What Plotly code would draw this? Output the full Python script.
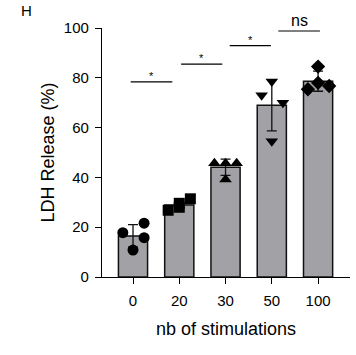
import numpy as np
import plotly.graph_objects as go

categories = ["0", "20", "30", "50", "100"]
values_0 = [17.8, 21.6, 15.8, 10.8]
values_20 = [26.8, 28.0, 29.6, 31.4]
values_30 = [45.7, 45.7, 45.7, 39.2]
values_50 = [73.0, 78.5, 70.0, 54.5]
values_100 = [84.5, 78.0, 75.4, 76.7]
groups = [values_0, values_20, values_30, values_50, values_100]
symbols = ["circle", "square", "triangle-up", "triangle-down", "diamond"]
jitter = [[-0.22, 0.24, 0.24, 0.0],
          [-0.24, 0.0, 0.0, 0.24],
          [-0.24, 0.0, 0.24, 0.0],
          [-0.22, 0.0, 0.24, 0.0],
          [0.0, 0.0, -0.22, 0.24]]
sig_labels = ["*", "*", "*", "ns"]
sig_spans = [(-0.05, 0.85), (1.04, 1.93), (2.09, 2.98), (3.14, 4.04)]
sig_levels = [78.4, 85.5, 92.9, 98.8]

means = [float(np.mean(g)) for g in groups]
sds = [float(np.std(g, ddof=1)) for g in groups]
xi = list(range(len(categories)))

fig = go.Figure()
fig.add_trace(go.Bar(
    x=xi, y=means, width=0.63,
    marker=dict(color="#a2a2a6", line=dict(color="#111111", width=1.5)),
    error_y=dict(type="data", array=sds, visible=True, color="#111111",
                 thickness=1.3, width=5),
    showlegend=False))
for i, g in enumerate(groups):
    fig.add_trace(go.Scatter(
        x=[i + j for j in jitter[i]], y=g, mode="markers",
        marker=dict(symbol=symbols[i], size=11, color="black"),
        showlegend=False, cliponaxis=False))

for (x0, x1), lvl, lab in zip(sig_spans, sig_levels, sig_labels):
    fig.add_shape(type="line", x0=x0, x1=x1, y0=lvl, y1=lvl,
                  line=dict(color="black", width=1.2), layer="above")
    fig.add_annotation(x=(x0 + x1) / 2, y=lvl, text=lab, showarrow=False,
                       yanchor="bottom", yshift=-2 if lab == "*" else 0,
                       font=dict(family="Liberation Sans", size=11 if lab == "*" else 16,
                                 color="black"))

fig.add_annotation(xref="paper", yref="paper", x=-0.305, y=1.03, text="H",
                   showarrow=False, xanchor="center", yanchor="bottom",
                   font=dict(family="Liberation Sans", size=15, color="black"))

fig.update_layout(
    width=356, height=355,
    margin=dict(l=102, r=6, t=28, b=78),
    plot_bgcolor="white", paper_bgcolor="white",
    font=dict(family="Liberation Sans", size=15, color="black"),
    bargap=0.3,
)
fig.update_xaxes(
    tickmode="array", tickvals=xi, ticktext=categories,
    range=[-0.67, 4.69], showline=True, linecolor="black", linewidth=1.2,
    ticks="outside", ticklen=6, tickcolor="black", showgrid=False, zeroline=False,
    ticklabelstandoff=4,
    title=dict(text="nb of stimulations", standoff=14),
)
fig.update_yaxes(
    range=[0, 100], tickvals=[0, 20, 40, 60, 80, 100],
    showline=True, linecolor="black", linewidth=1.2,
    ticks="outside", ticklen=6, tickcolor="black", showgrid=False, zeroline=False,
    ticklabelstandoff=3,
    title=dict(text="LDH Release (%)", standoff=4),
)

fig.write_html("out.html", config={"displayModeBar": False},
               post_script="document.body.style.margin='0';document.body.style.overflow='hidden';")
